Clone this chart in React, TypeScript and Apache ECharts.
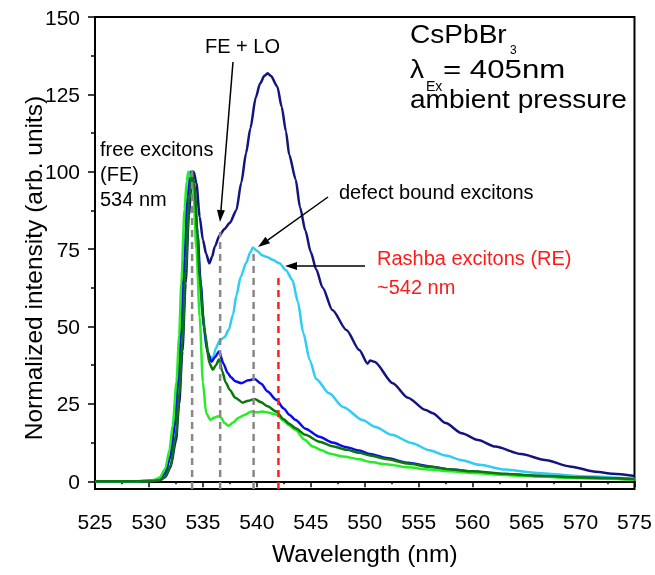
import React, { useEffect, useRef } from "react";
import * as echarts from "echarts";

// ---- Data ----
const navyWl = [525, 529, 530, 531, 531.5, 532, 532.5, 532.8, 533.1, 533.4, 533.7, 533.95, 534.15, 534.4, 534.7, 535.0, 535.3, 535.6, 535.85, 536.1, 536.55, 537.0, 537.5, 538.1, 538.56, 539.0, 539.4, 539.9, 540.3, 540.7, 541.0, 541.3, 541.9, 542.3, 542.7, 543.0, 543.6, 544.0, 544.5, 545.0, 545.5, 546.1, 547.0, 548.3, 549.5, 550.26, 550.5, 550.9, 552.6, 554.0, 555.65, 556.3, 557.5, 559.0, 560.5, 562.1, 564.5, 566.7, 569.0, 571.4, 573, 575];
const navyI = [0, 0, 0.05, 0.3, 1.3, 4.5, 13, 25, 42, 64, 86, 97, 100, 96.3, 85.5, 78, 73.5, 70.4, 72.5, 75.8, 79.5, 81.5, 83.5, 87.6, 96.5, 106, 114, 124, 128.5, 131, 131.8, 131, 127.5, 121, 113, 105.5, 97.5, 88.5, 81, 74, 68.5, 62.5, 55.3, 48.9, 42.4, 38, 39, 38.6, 31.7, 27, 23, 22, 18.8, 15.5, 13.3, 11.2, 8.8, 6.9, 4.8, 3.1, 2.4, 1.7];

const cyanWl = [525, 529, 530, 531, 531.5, 532, 532.4, 532.7, 533.0, 533.3, 533.55, 533.8, 534.1, 534.4, 534.7, 535.0, 535.3, 535.6, 535.93, 536.2, 536.55, 537.0, 537.4, 537.8, 538.1, 538.5, 539.0, 539.4, 539.63, 540.0, 540.5, 540.9, 541.5, 542.1, 542.7, 543.3, 543.8, 544.3, 544.9, 545.5, 546.7, 548.0, 549.8, 551.0, 552.5, 554.4, 556.0, 557.5, 559.0, 560.6, 563, 566, 570, 575];
const cyanI = [0, 0, 0.1, 0.7, 2.8, 9, 19, 34, 52, 75, 92, 100, 95, 82, 66, 52, 44, 40.5, 39.7, 43, 45.5, 46.5, 49, 54, 60, 66, 70.5, 74, 75.5, 74.5, 73, 72.5, 71.5, 70.4, 68.2, 65, 58, 48, 39.2, 33, 28.4, 24, 19.8, 17.5, 15, 12.3, 10, 8.3, 6.8, 5.3, 3.8, 2.7, 1.6, 0.8];

const blueWl = [525, 529, 530, 531, 531.5, 532, 532.4, 532.7, 533.0, 533.3, 533.6, 533.9, 534.2, 534.5, 534.8, 535.1, 535.4, 535.8, 536.1, 536.5, 536.9, 537.3, 537.6, 538.0, 538.56, 539.2, 539.8, 540.4, 541.0, 541.8, 542.5, 543.0, 543.6, 544.5, 545.8, 547.0, 548.3, 549.5, 550.5, 552.0, 554, 556, 558, 560, 563, 566, 570, 575];
const blueI = [0, 0, 0.1, 0.6, 2.5, 8, 18, 32, 50, 72, 92, 100, 95, 80, 64, 50, 42, 38.6, 40, 41.9, 38, 35, 33.6, 32.3, 31.7, 32.6, 33, 31.5, 29, 26.3, 23.5, 21.5, 19.8, 17, 14.4, 12.5, 11, 9.9, 8.8, 7.5, 6, 4.8, 3.8, 3.1, 2.3, 1.7, 1.1, 0.6];

const greenWl = [525, 529, 530, 530.5, 531, 531.5, 531.9, 532.2, 532.55, 532.8, 533.0, 533.3, 533.5, 533.65, 533.9, 534.1, 534.4, 534.7, 535.0, 535.3, 535.7, 536.0, 536.4, 536.7, 537.0, 537.4, 537.8, 538.3, 538.9, 539.5, 540.0, 540.5, 541.0, 541.8, 542.5, 543.0, 543.6, 544.4, 545.2, 546.0, 546.7, 548.0, 549.5, 550.5, 552.0, 554.0, 556.0, 558.0, 560.0, 563.0, 566, 570, 575];
const greenI = [0, 0, 0.1, 0.4, 1.2, 4, 10, 18, 32, 47, 64, 88, 97, 100, 98, 94, 75, 53, 32, 22, 19.8, 20.5, 21, 20.5, 18.8, 17.9, 19, 20.5, 21.5, 22.5, 22.3, 22.5, 22.2, 21.6, 19.5, 18, 16.6, 13.5, 11.2, 10, 9, 8, 7.1, 6.2, 5.5, 4.5, 3.8, 3.2, 2.7, 2, 1.5, 1, 0.5];

const dkGreenWl = [525, 529, 530, 531, 531.5, 532, 532.5, 532.8, 533.1, 533.4, 533.7, 534.0, 534.2, 534.5, 534.7, 535.0, 535.2, 535.6, 535.93, 536.2, 536.5, 536.8, 537.1, 537.5, 538.0, 538.7, 539.2, 539.8, 540.4, 541.0, 541.8, 542.5, 543.0, 543.6, 544.5, 545.8, 547.0, 548.3, 549.5, 550.5, 552, 554, 556, 558, 560, 563, 566, 570, 575];
const dkGreenI = [0, 0, 0.05, 0.3, 1.5, 5, 15, 28, 45, 68, 90, 99.5, 96, 80, 66, 54, 47.8, 38.1, 36, 37.5, 39.4, 35.5, 32, 29.5, 27, 25.4, 26, 26.6, 25.5, 24.2, 22.5, 20, 18.6, 17.1, 15, 12.8, 11.3, 10.2, 9.2, 8.3, 7.2, 5.7, 4.7, 3.8, 3.2, 2.4, 1.8, 1.2, 0.7];

// dashed marker lines: wavelength, top intensity
const markerWl = [534.0, 536.6, 539.7, 542.0];
const markerTop = [101.5, 80.5, 75, 66.5];

// axis ticks
const yMin = -2.5;
const yMax = 150;
const yTicks = [0, 25, 50, 75, 100, 125, 150];
const yMinorTicks = [12.5, 37.5, 62.5, 87.5, 112.5, 137.5];
const xMin = 525;
const xMax = 575;
const xStep = 5;

const FONT = "'Liberation Sans', Arial, sans-serif";

function zip(a: number[], b: number[]) {
  return a.map((v, i) => [v, b[i]]);
}

function arrow(x1: number, y1: number, x2: number, y2: number) {
  const ang = Math.atan2(y2 - y1, x2 - x1);
  const L = 12;
  const W = 4;
  const c = Math.cos(ang);
  const s = Math.sin(ang);
  const bx = x2 - L * c;
  const by = y2 - L * s;
  const px = -s * W;
  const py = c * W;
  return [
    { type: "line", z: 100, shape: { x1, y1, x2: bx, y2: by }, style: { stroke: "#000", lineWidth: 1.5 } },
    {
      type: "polygon",
      z: 100,
      shape: { points: [[x2, y2], [bx + px, by + py], [bx - px, by - py]] },
      style: { fill: "#000" },
    },
  ];
}

function txt(text: string, x: number, y: number, size: number, color = "#000", extra: any = {}, align = "left") {
  return {
    type: "text",
    z: 100,
    x,
    y,
    ...extra,
    style: { text, fontSize: size, fontFamily: FONT, fill: color, align, verticalAlign: "middle" },
  };
}

export default function App() {
  const ref = useRef<HTMLDivElement>(null);

  useEffect(() => {
    if (!ref.current) return;
    const chart = echarts.init(ref.current, null, { renderer: "svg" });

    const curve = (name: string, wl: number[], it: number[], color: string) => ({
      name,
      type: "line",
      data: zip(wl, it),
      showSymbol: false,
      symbol: "none",
      smooth: 0.25,
      smoothMonotone: "x",
      lineStyle: { color, width: 2.5 },
      silent: true,
      z: 3,
    });

    const markers = markerWl.map((w, i) => ({
      name: "marker" + i,
      type: "line",
      data: [
        [w, yMin],
        [w, markerTop[i]],
      ],
      symbol: "none",
      lineStyle: { color: i === 3 ? "#FF2020" : "#888888", width: 2.5, type: [7, 5] },
      silent: true,
      z: 5,
    }));

    const big = 26;
    const option: any = {
      animation: false,
      textStyle: { fontFamily: FONT },
      grid: {
        left: 95,
        right: 19,
        top: 17,
        bottom: 86,
        show: true,
        borderColor: "#000",
        borderWidth: 2,
        backgroundColor: "transparent",
      },
      xAxis: {
        type: "value",
        min: xMin,
        max: xMax,
        interval: xStep,
        axisLine: { lineStyle: { color: "#000", width: 2 } },
        axisTick: { length: 6, lineStyle: { color: "#000", width: 1.5 } },
        minorTick: { show: true, splitNumber: 2, length: 3, lineStyle: { color: "#000", width: 1.5 } },
        axisLabel: { fontSize: 21, color: "#000", margin: 22, fontFamily: FONT },
        splitLine: { show: false },
        minorSplitLine: { show: false },
        name: "Wavelength (nm)",
        nameLocation: "middle",
        nameGap: 52,
        nameTextStyle: { fontSize: 24.5, color: "#000", fontFamily: FONT },
      },
      yAxis: [
        {
          type: "value",
          min: yMin,
          max: yMax,
          axisLine: { show: true, lineStyle: { color: "#000", width: 2 } },
          axisTick: { show: true, length: 7, customValues: yTicks, lineStyle: { color: "#000", width: 1.5 } },
          axisLabel: { fontSize: 21, color: "#000", margin: 15, customValues: yTicks, fontFamily: FONT },
          splitLine: { show: false },
        },
        {
          type: "value",
          min: yMin,
          max: yMax,
          position: "left",
          axisLine: { show: false },
          axisTick: { show: true, length: 4, customValues: yMinorTicks, lineStyle: { color: "#000", width: 1.5 } },
          axisLabel: { show: false },
          splitLine: { show: false },
        },
      ],
      series: [
        curve("navy", navyWl, navyI, "#14147F"),
        curve("cyan", cyanWl, cyanI, "#2ECDF5"),
        curve("blue", blueWl, blueI, "#0A0AF0"),
        curve("green", greenWl, greenI, "#26EC26"),
        curve("darkgreen", dkGreenWl, dkGreenI, "#0B770B"),
        ...markers,
      ],
      graphic: [
        txt("Normalized intensity (arb. units)", 33, 268, 24.5, "#000", { rotation: Math.PI / 2 }, "center"),
        txt("FE + LO", 205, 46, 20),
        txt("free excitons", 100, 149, 20),
        txt("(FE)", 100, 174, 20),
        txt("534 nm", 100, 198.5, 20),
        txt("defect bound excitons", 339, 192, 20),
        txt("Rashba excitons (RE)", 377, 258, 20, "#FF1A1A"),
        txt("~542 nm", 377, 287, 20, "#FF1A1A"),
        txt("CsPbBr", 410, 34, big, "#000", { scaleX: 1.08 }),
        txt("3", 510, 50, 12),
        txt("λ", 410, 69, big, "#000", { scaleX: 1.08 }),
        txt("Ex", 426, 86, 14),
        txt("= 405nm", 443, 69, big, "#000", { scaleX: 1.2 }),
        txt("ambient pressure", 410, 99, big, "#000", { scaleX: 1.08 }),
        ...arrow(233, 62, 220, 222),
        ...arrow(328, 197, 258, 247),
        ...arrow(365, 266, 285, 266),
      ],
    };

    chart.setOption(option);
    return () => chart.dispose();
  }, []);

  return <div ref={ref} style={{ position: "fixed", left: 0, top: 0, width: 655, height: 575 }} />;
}
